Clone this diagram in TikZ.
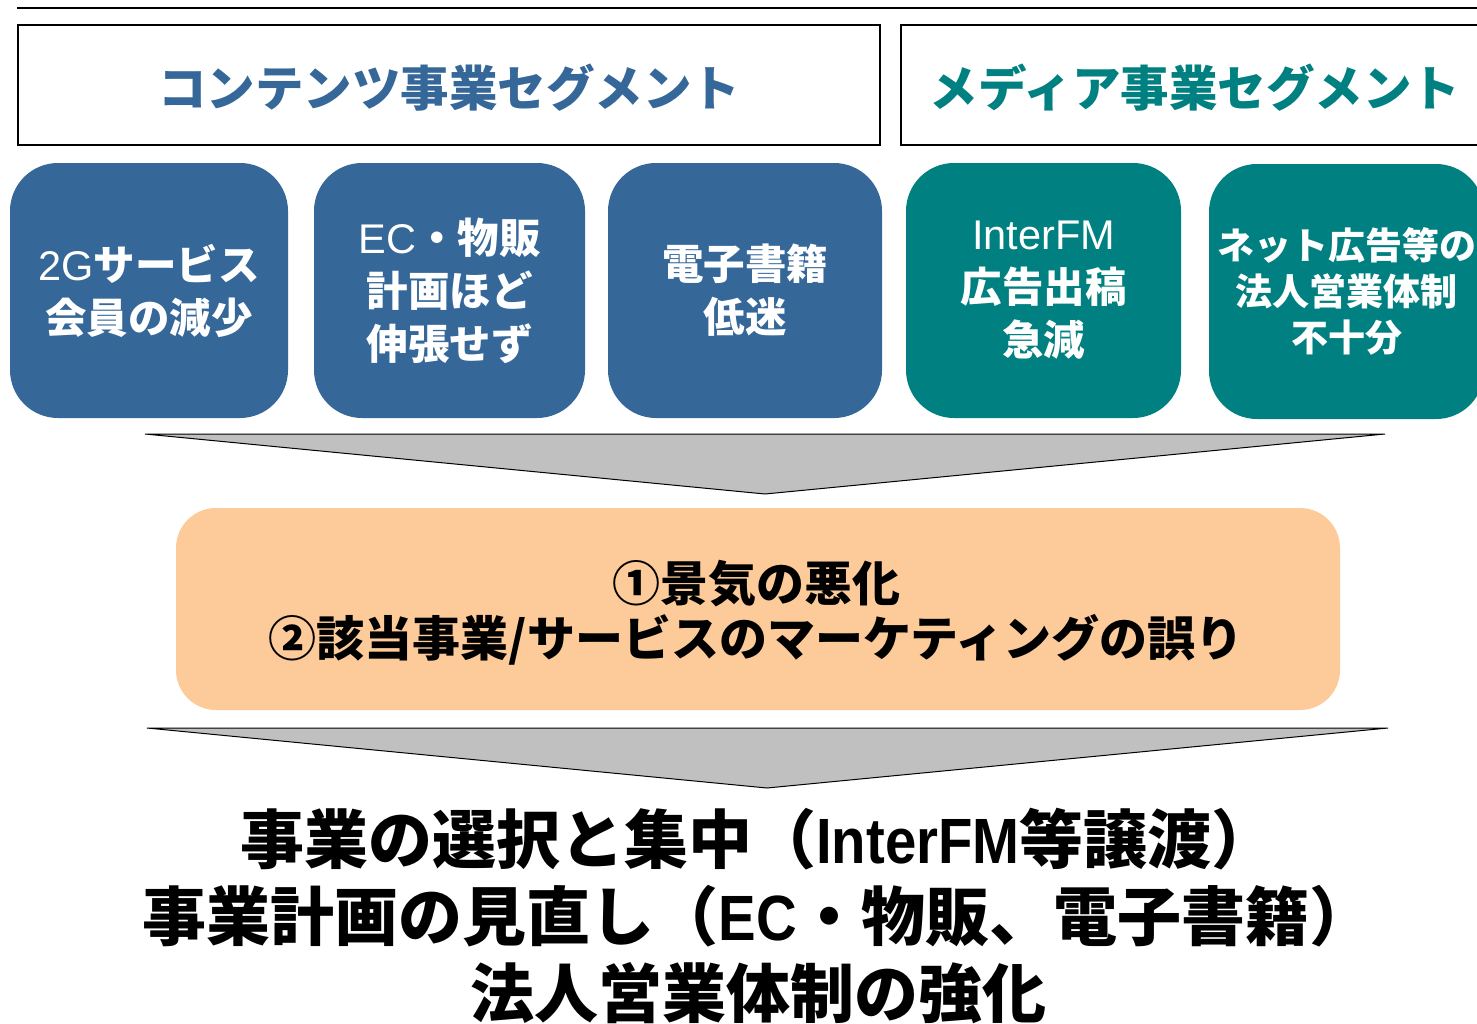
\documentclass[tikz,border=0pt]{standalone}
\usepackage{fontspec}
\setmainfont{Noto Sans CJK JP}
\newfontfamily\lat{Liberation Sans}
\newfontfamily\latn[FakeStretch=0.88]{Liberation Sans}
\definecolor{segblue}{RGB}{53,103,153}
\definecolor{segteal}{RGB}{0,128,128}
\definecolor{orangefill}{RGB}{253,203,153}
\definecolor{funnelgray}{RGB}{192,192,192}
\begin{document}
\begin{tikzpicture}[x=1pt,y=-1pt,
  headerbox/.style={draw=black, line width=2pt, inner sep=0pt, minimum height=120pt},
  headertext/.style={font=\fontsize{48.5}{52}\selectfont\bfseries},
  card/.style={rounded corners=48pt, text=white, align=center, inner sep=0pt,
    minimum height=255pt, font=\fontsize{41.5}{53}\selectfont\bfseries},
  bluecard/.style={card, fill=segblue},
  tealcard/.style={card, fill=segteal},
  funnel/.style={fill=funnelgray, draw=black, line width=1pt},
  causebox/.style={rounded corners=40pt, fill=orangefill, align=center, inner sep=0pt,
    minimum width=1164pt, minimum height=202pt},
  causetext/.style={align=center, inner sep=0pt, font=\fontsize{48}{55}\selectfont\bfseries},
  resulttext/.style={align=center, inner sep=0pt, font=\fontsize{64}{77}\selectfont\bfseries}
]
\useasboundingbox (0,0) rectangle (1477,1023);
\clip (0,0) rectangle (1477,1023);
\fill[white] (0,0) rectangle (1477,1023);

% top rule
\coordinate (ruleL) at (17,8);
\coordinate (ruleR) at (1490,8);
\draw[line width=2.5pt] (ruleL) -- (ruleR);

% headers
\node[headerbox, minimum width=862pt] (h1) at (449,85) {};
\node[headertext, text=segblue] (h1t) at (449,88) {コンテンツ事業セグメント};
\node[headerbox, minimum width=620pt] (h2) at (1211,85) {};
\node[headertext, text=segteal] (h2t) at (1195,88) {メディア事業セグメント};

% cards
\node[bluecard, minimum width=278pt] (b1) at (149,290.5)
  {{\lat\mdseries 2G}サービス\\会員の減少};
\node[bluecard, minimum width=271pt] (b2) at (449.5,290.5)
  {{\lat\mdseries EC}・物販\\計画ほど\\伸張せず};
\node[bluecard, minimum width=274pt] (b3) at (745,290.5)
  {電子書籍\\低迷};
\node[tealcard, minimum width=275pt] (b4) at (1043.5,290.5)
  {{\lat\mdseries InterFM}\\広告出稿\\急減};
\node[tealcard, minimum width=275pt, font=\fontsize{37}{46}\selectfont\bfseries] (b5) at (1346.5,291.5)
  {ネット広告等の\\法人営業体制\\不十分};

% funnel 1
\coordinate (f1L) at (145,434);
\coordinate (f1R) at (1385,434);
\coordinate (f1T) at (765,494);
\draw[funnel] (f1L) -- (f1R) -- (f1T) -- cycle;

% causes
\node[causebox] (c) at (758,609) {};
\node[causetext] (ct) at (756,613)
  {①景気の悪化\\②該当事業/サービスのマーケティングの誤り};

% funnel 2
\coordinate (f2L) at (147,728);
\coordinate (f2R) at (1388,728);
\coordinate (f2T) at (767,788);
\draw[funnel] (f2L) -- (f2R) -- (f2T) -- cycle;

% result
\node[resulttext] (r) at (758,916)
  {事業の選択と集中（{\latn\bfseries InterFM}等譲渡）\\
   事業計画の見直し（{\latn\bfseries EC}・物販、電子書籍）\\
   法人営業体制の強化};
\end{tikzpicture}
\end{document}
